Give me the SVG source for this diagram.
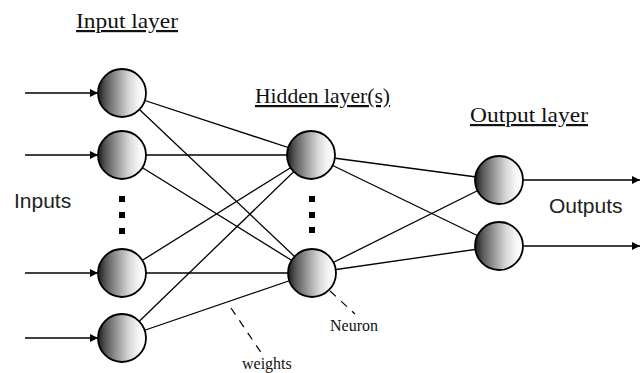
<svg xmlns="http://www.w3.org/2000/svg" width="644" height="373" viewBox="0 0 644 373">
<defs>
<linearGradient id="sph" x1="0" y1="0" x2="1" y2="0">
<stop offset="0" stop-color="#1a1a1a"/>
<stop offset="0.15" stop-color="#555"/>
<stop offset="0.4" stop-color="#999"/>
<stop offset="0.65" stop-color="#d8d8d8"/>
<stop offset="0.85" stop-color="#f6f6f6"/>
<stop offset="1" stop-color="#fff"/>
</linearGradient>
<marker id="ah" viewBox="0 0 10 10" refX="10" refY="5" markerWidth="11" markerHeight="8" markerUnits="userSpaceOnUse" orient="auto">
<path d="M0,0 L10,5 L0,10 Z" fill="#000"/>
</marker>
</defs>
<style>
.n{fill:url(#sph);stroke:#000;stroke-width:1.8}
.c{stroke:#000;stroke-width:1.3;fill:none}
.a{stroke:#000;stroke-width:1.3;fill:none;marker-end:url(#ah)}
.d{stroke:#000;stroke-width:1.2;stroke-dasharray:8,7;fill:none}
.t{font-family:"Liberation Serif",serif;font-size:22px;fill:#111;text-decoration:underline}
.s{font-family:"Liberation Sans",Arial,sans-serif;font-size:21px;fill:#222}
.m{font-family:"Liberation Serif",serif;font-size:16px;fill:#111}
.dot{fill:#000}
</style>
<g id="connectors">
<line class="a" x1="25" y1="93" x2="98" y2="93"/>
<line class="a" x1="25" y1="155" x2="98" y2="155"/>
<line class="a" x1="25" y1="273" x2="98" y2="273"/>
<line class="a" x1="25" y1="338" x2="98" y2="338"/>
<line class="c" x1="122" y1="93" x2="311" y2="155"/>
<line class="c" x1="122" y1="93" x2="312" y2="273"/>
<line class="c" x1="122" y1="155" x2="311" y2="155"/>
<line class="c" x1="122" y1="155" x2="312" y2="273"/>
<line class="c" x1="122" y1="273" x2="311" y2="155"/>
<line class="c" x1="122" y1="273" x2="312" y2="273"/>
<line class="c" x1="122" y1="338" x2="311" y2="155"/>
<line class="c" x1="122" y1="338" x2="312" y2="273"/>
<line class="c" x1="311" y1="155" x2="499" y2="180"/>
<line class="c" x1="311" y1="155" x2="499" y2="246"/>
<line class="c" x1="312" y1="273" x2="499" y2="180"/>
<line class="c" x1="312" y1="273" x2="499" y2="246"/>
<line class="a" x1="524" y1="180" x2="640" y2="180"/>
<line class="a" x1="524" y1="246" x2="640" y2="246"/>
<line class="d" x1="330" y1="291" x2="355" y2="314"/>
<line class="d" x1="231" y1="308" x2="262" y2="354"/>
</g>
<g id="input1"><circle class="n" cx="122" cy="93" r="24"/></g>
<g id="input2"><circle class="n" cx="122" cy="155" r="24"/></g>
<g id="input3"><circle class="n" cx="122" cy="273" r="24"/></g>
<g id="input4"><circle class="n" cx="122" cy="338" r="24"/></g>
<g id="input-dots">
<rect class="dot" x="119" y="196" width="6" height="6"/>
<rect class="dot" x="119" y="212" width="6" height="6"/>
<rect class="dot" x="119" y="228" width="6" height="6"/>
</g>
<g id="hidden1"><circle class="n" cx="311" cy="155" r="24"/></g>
<g id="hidden2"><circle class="n" cx="312" cy="273" r="24"/></g>
<g id="hidden-dots">
<rect class="dot" x="309" y="196" width="6" height="6"/>
<rect class="dot" x="309" y="212" width="6" height="6"/>
<rect class="dot" x="309" y="227" width="6" height="6"/>
</g>
<g id="output1"><circle class="n" cx="499" cy="180" r="24"/></g>
<g id="output2"><circle class="n" cx="499" cy="246" r="24"/></g>
<g id="labels">
<text class="t" x="76" y="28" textLength="102" lengthAdjust="spacingAndGlyphs">Input layer</text>
<text class="t" x="255" y="103" textLength="135" lengthAdjust="spacingAndGlyphs">Hidden layer(s)</text>
<text class="t" x="470" y="122" textLength="118" lengthAdjust="spacingAndGlyphs">Output layer</text>
<text class="s" x="14" y="208">Inputs</text>
<text class="s" x="549" y="213">Outputs</text>
<text class="m" x="330" y="331">Neuron</text>
<text class="m" x="242" y="369">weights</text>
</g>
</svg>
